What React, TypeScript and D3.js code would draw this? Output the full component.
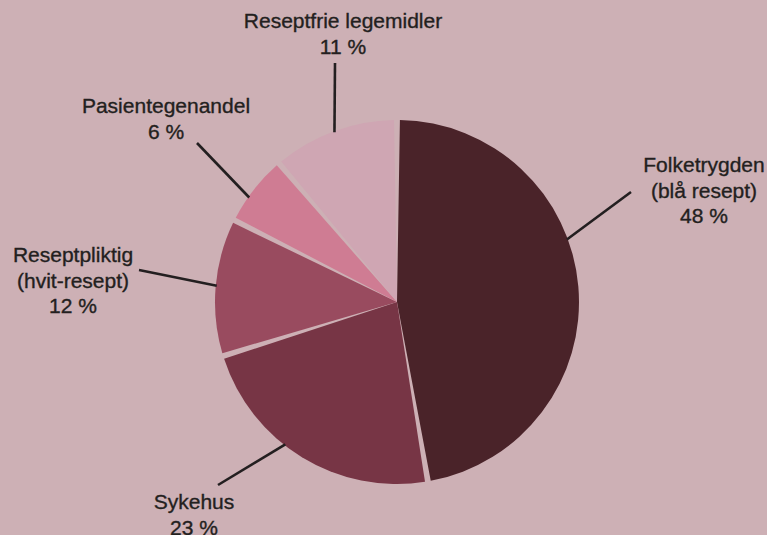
import React from 'react';
import * as d3 from 'd3';

// Andel av legemiddelsalget etter betaler
const categories = ['Folketrygden (blå resept)', 'Sykehus', 'Reseptpliktig (hvit-resept)', 'Pasientegenandel', 'Reseptfrie legemidler'];
const labelLines = [
  ['Folketrygden', '(blå resept)'],
  ['Sykehus'],
  ['Reseptpliktig', '(hvit-resept)'],
  ['Pasientegenandel'],
  ['Reseptfrie legemidler'],
];
const shares = [48, 23, 12, 6, 11];
const colors = ['#4a2329', '#773545', '#994b5f', '#cf7c93', '#cfa6b3'];

// where each leader line leaves its slice (fraction of the slice) and where the label sits
const leaderPos = [0.41, 0.58, 0.51, 0.375, 0.5];
const leaderEnd = [[631, 192], [218, 485], [139, 270], [197, 143], [335, 63]];
const labelAnchor = [[704, 172], [194, 509], [73, 262], [166, 113], [343, 28]];

const W = 767;
const H = 535;
const BG = '#cdb0b5';

export default function App() {
  const cx = 397;
  const cy = 302;
  const r = 182;

  const pie = d3.pie<number>().sort(null).value(d => d).padAngle(0.032);
  const arcs = pie(shares);
  const arc = d3.arc<d3.PieArcDatum<number>>().innerRadius(0).outerRadius(r);

  const font = "'Liberation Sans', Arial, sans-serif";

  return (
    <svg width={W} height={H} style={{ position: 'absolute', left: 0, top: 0, background: BG }}>
      <rect width={W} height={H} fill={BG} />
      <g transform={`translate(${cx},${cy})`}>
        {arcs.map((a, i) => (
          <path key={categories[i]} d={arc(a) || ''} fill={colors[i]} />
        ))}
        {arcs.map((a, i) => {
          const ang = a.startAngle + (a.endAngle - a.startAngle) * leaderPos[i];
          const x0 = Math.sin(ang) * (r - 1);
          const y0 = -Math.cos(ang) * (r - 1);
          return (
            <line key={'l' + i} x1={x0} y1={y0} x2={leaderEnd[i][0] - cx} y2={leaderEnd[i][1] - cy}
              stroke="#231f20" strokeWidth={2.6} />
          );
        })}
      </g>
      {arcs.map((a, i) => {
        const lines = [...labelLines[i], `${shares[i]} %`];
        return (
          <text key={'t' + i} x={labelAnchor[i][0]} y={labelAnchor[i][1]} textAnchor="middle"
            fontFamily={font} fontSize={21} fill="#231f20" stroke="#231f20" strokeWidth={0.35}>
            {lines.map((s, j) => (
              <tspan key={j} x={labelAnchor[i][0]} dy={j === 0 ? 0 : 25.5}>{s}</tspan>
            ))}
          </text>
        );
      })}
    </svg>
  );
}
